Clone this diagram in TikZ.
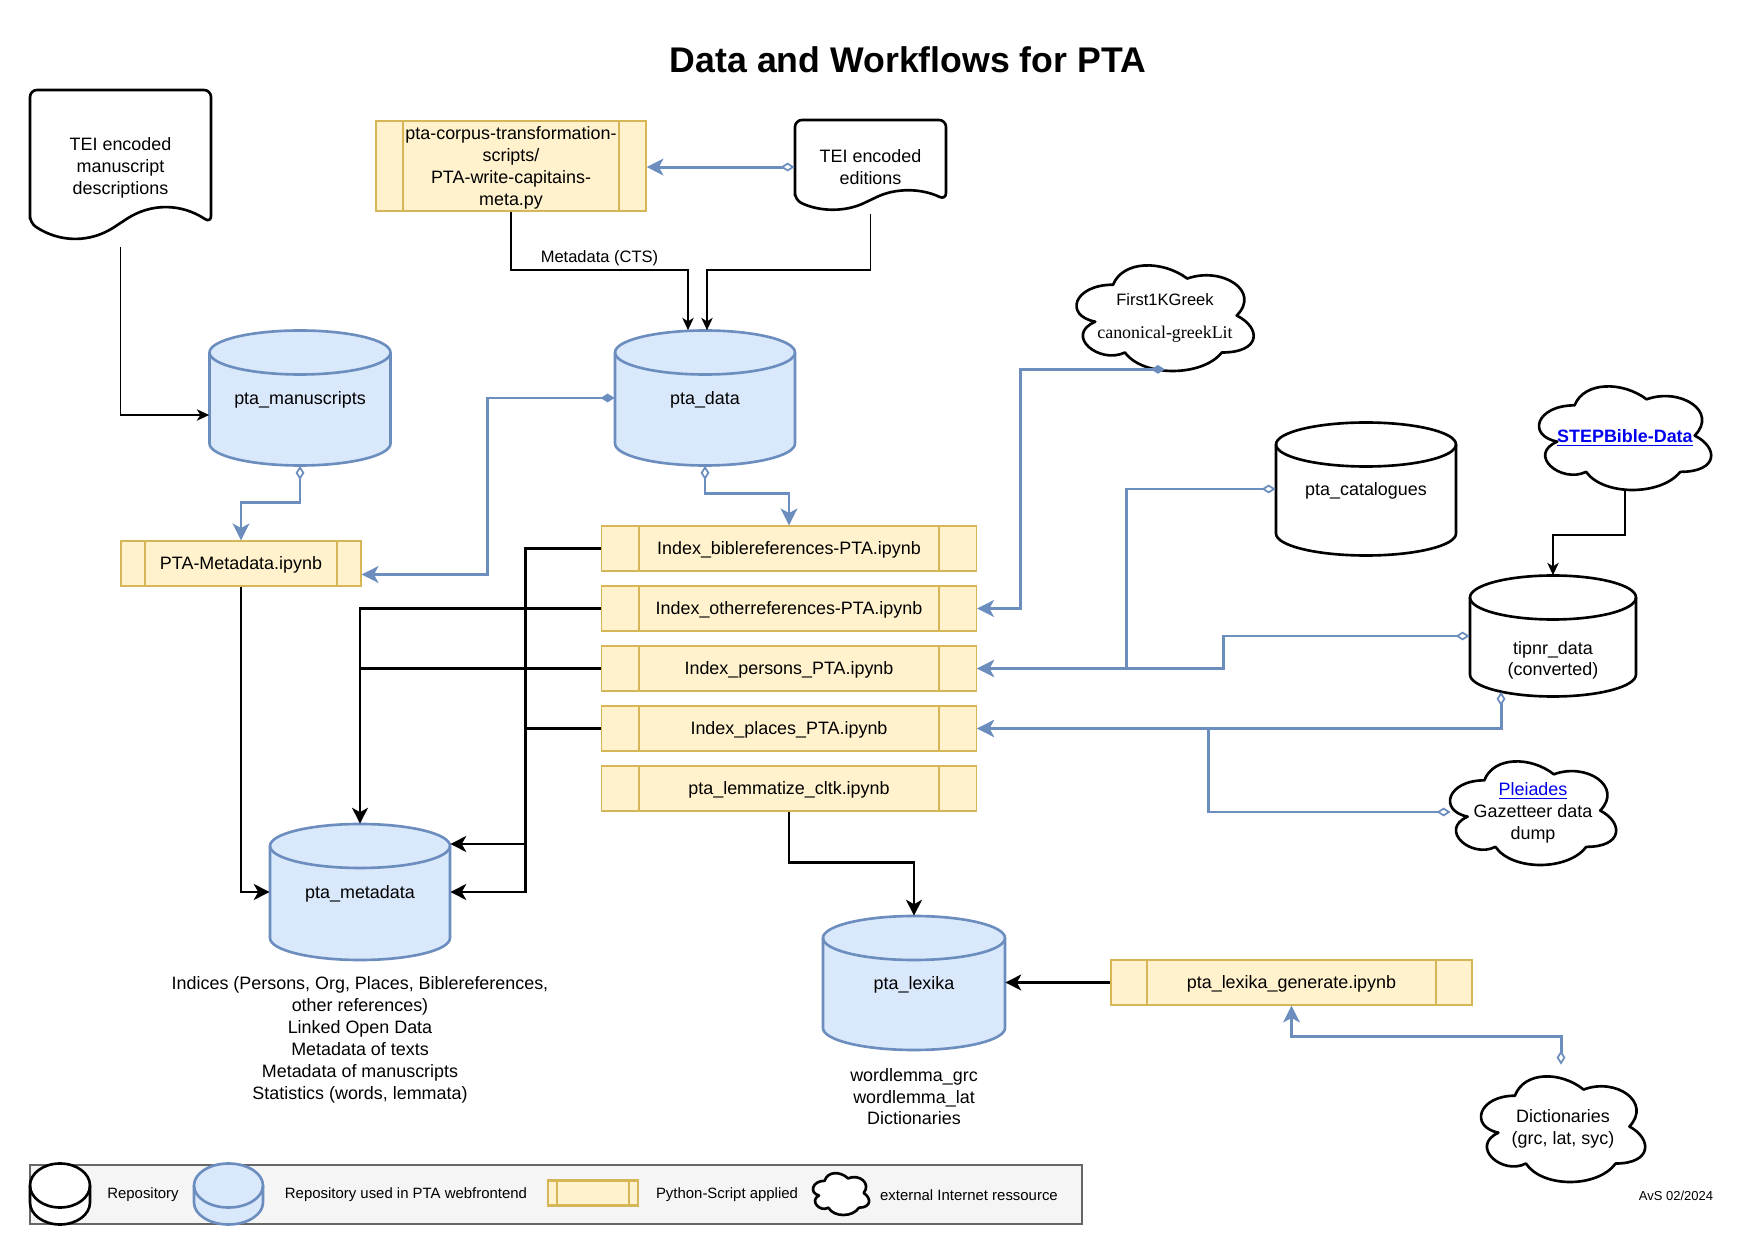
\documentclass[tikz,border=0pt]{standalone}
\usepackage{fontspec}
\setmainfont{Liberation Sans}
\newfontfamily\seriffont{Liberation Serif}
\usepackage{xcolor}
\definecolor{repodraw}{HTML}{6C8EBF}
\definecolor{repofill}{HTML}{DAE8FC}
\definecolor{scriptdraw}{HTML}{D6B656}
\definecolor{scriptfill}{HTML}{FFF2CC}
\definecolor{legendfill}{HTML}{F5F5F5}
\definecolor{legenddraw}{HTML}{666666}
\definecolor{linkblue}{HTML}{0000EE}
\usepackage{tikz}
\usetikzlibrary{positioning, calc, arrows.meta}

\newcommand{\mainsize}{\fontsize{10.2}{12.5}\selectfont}
\newcommand{\smallsize}{\fontsize{9.4}{11.5}\selectfont}
\newcommand{\legendsize}{\fontsize{8.5}{10}\selectfont}

\tikzstyle{repotext} = [rectangle, inner sep=0pt, align=center, font=\mainsize, text depth=0pt]
\tikzstyle{webrepo} = [draw=repodraw, fill=repofill, line width=1.5pt]
\tikzstyle{plainrepo} = [draw=black, fill=white, line width=1.5pt]
\tikzstyle{script} = [
    rectangle, align=center, font=\mainsize, text depth=0pt,
    draw=scriptdraw, fill=scriptfill,
    line width=0.8pt, inner sep=0pt,
    minimum height=0.9cm,
    path picture={
        \draw[scriptdraw] ($(path picture bounding box.north west)!0.1!(path picture bounding box.north east)$)
            -- ($(path picture bounding box.south west)!0.1!(path picture bounding box.south east)$);
        \draw[scriptdraw] ($(path picture bounding box.north west)!0.9!(path picture bounding box.north east)$)
            -- ($(path picture bounding box.south west)!0.9!(path picture bounding box.south east)$);
    },
]
\tikzstyle{cloudline} = [draw=black, fill=white, line width=1.5pt, line join=round]
\tikzstyle{cloudtext} = [rectangle, inner sep=0pt, align=center, font=\mainsize]
\tikzstyle{docline} = [draw=black, fill=white, line width=1.5pt, line join=round]
\tikzstyle{doctext} = [rectangle, inner sep=0pt, align=center, font=\mainsize]
\tikzstyle{notes} = [align=center, font=\mainsize]
\tikzstyle{legendtext} = [font=\legendsize]
\tikzstyle{thinarrow} = [-{Stealth[length=7pt, width=6.5pt, inset=2pt]}, line width=0.8pt]
\tikzstyle{thickarrow} = [-{Stealth[length=9pt, width=9pt, inset=2.5pt]}, line width=1.6pt]
\tikzstyle{thickline} = [line width=1.6pt]
\tikzstyle{bluearrow} = [draw=repodraw, line width=1.7pt,
    {Diamond[open, length=8pt, width=5pt, line width=1pt]}-{Stealth[length=9.5pt, width=9.5pt, inset=2.5pt]}]
\tikzstyle{bluefilled} = [draw=repodraw, line width=1.7pt,
    {Diamond[length=8pt, width=5pt]}-{Stealth[length=9.5pt, width=9.5pt, inset=2.5pt]}]

% repository: name, centre, width, height, look, text
\newcommand{\repository}[6]{
    \begin{scope}[shift={(#2)}]
        \path[#5] (-#3/2, -#4/2+22) -- (-#3/2, #4/2-22)
            arc[start angle=180, end angle=0, x radius=#3/2, y radius=22]
            -- (#3/2, -#4/2+22)
            arc[start angle=360, end angle=180, x radius=#3/2, y radius=22] -- cycle;
        \draw[#5, fill=none] (-#3/2, -#4/2+22)
            arc[start angle=180, end angle=0, x radius=#3/2, y radius=22];
    \end{scope}
    \node[repotext, minimum width=#3*0.02cm, minimum height=#4*0.02cm] (#1) at (#2) {#6};
}

% cloud: name, centre x, centre y, width, height, text
\newcommand{\cloudnode}[6]{
    \begin{scope}[shift={(#2-0.5125*#4/0.895, #3-0.52*#5/0.86)}, xscale=#4/0.895, yscale=#5/0.86]
        \draw[cloudline] (0.25,0.25) .. controls (0.05,0.25) and (0,0.5) .. (0.16,0.55)
            .. controls (0,0.66) and (0.18,0.9) .. (0.31,0.8)
            .. controls (0.4,1) and (0.7,1) .. (0.8,0.8)
            .. controls (1,0.8) and (1,0.6) .. (0.875,0.5)
            .. controls (1,0.3) and (0.8,0.1) .. (0.625,0.2)
            .. controls (0.5,0.05) and (0.3,0.05) .. (0.25,0.25) -- cycle;
    \end{scope}
    \node[cloudtext, minimum width=#4*0.02cm, minimum height=#5*0.02cm] (#1) at (#2,#3) {#6};
}

% document: name, left, top, width, side height, text
\newcommand{\docnode}[6]{
    \begin{scope}[shift={(#2,#3)}]
        \draw[docline, rounded corners=4pt] (0,#5) -- (0,0) -- (#4,0) -- (#4,#5)
            .. controls (5*#4/6, 0.85*#5) and (2*#4/3, 0.85*#5) .. (#4/2, #5)
            .. controls (#4/3, 1.15*#5) and (#4/6, 1.15*#5) .. (0,#5) -- cycle;
    \end{scope}
    \node[doctext, minimum width=#4*0.02cm, minimum height=#5/0.85*0.02cm] (#1) at (#2+#4/2, #3+#5/0.85/2) {#6};
}

\begin{document}
\begin{tikzpicture}[x=0.02cm, y=-0.02cm]
    \useasboundingbox (0,0) rectangle (1756,1246);

    \node[font=\fontsize{20.3}{24}\selectfont\bfseries] (title) at (908,60) {Data and Workflows for PTA};

    % sources
    \docnode{msdoc}{30}{90}{181}{133}{TEI encoded\\manuscript\\descriptions}
    \docnode{editions}{795}{120}{151}{80}{TEI encoded\\editions}
    \cloudnode{first}{1165}{318}{177}{106}{\smallsize First1KGreek\\[6pt]{\seriffont canonical-greekLit}}
    \cloudnode{stepbible}{1625}{438}{172}{104}{\textcolor{linkblue}{\underline{\textbf{STEPBible-Data}}}}
    \cloudnode{pleiades}{1533}{813}{166}{104}{\textcolor{linkblue}{\underline{Pleiades}}\\Gazetteer data\\dump}
    \cloudnode{dict}{1563}{1129}{164}{106}{Dictionaries\\(grc, lat, syc)}

    % repositories
    \repository{manuscripts}{300,398}{181}{135}{webrepo}{pta\_manuscripts}
    \repository{ptadata}{705,398}{180}{135}{webrepo}{pta\_data}
    \repository{metadata}{360,892}{180}{136}{webrepo}{pta\_metadata}
    \repository{lexika}{914,983}{182}{134}{webrepo}{pta\_lexika}
    \repository{catalogues}{1366,489}{180}{133}{plainrepo}{pta\_catalogues}
    \repository{tipnr}{1553,636}{166}{121}{plainrepo}{\raisebox{-0.58cm}[0pt][0pt]{\begin{tabular}{@{}c@{}}tipnr\_data\\(converted)\end{tabular}}}

    \node[notes, below=0.2cm of metadata] (metanotes) {Indices (Persons, Org, Places, Biblereferences,\\other references)\\Linked Open Data\\Metadata of texts\\Metadata of manuscripts\\Statistics (words, lemmata)};
    \node[notes, below=0.23cm of lexika] (lexnotes) {wordlemma\_grc\\wordlemma\_lat\\Dictionaries};

    % scripts
    \node[script, minimum width=5.4cm, minimum height=1.8cm] (corpus) at (511,166) {pta-corpus-transformation-\\scripts/\\PTA-write-capitains-\\meta.py};
    \node[script, minimum width=4.8cm] (ptameta) at (241,563.5) {PTA-Metadata.ipynb};
    \foreach \name/\file [count=\i] in {bible/Index\_biblereferences-PTA.ipynb, other/Index\_otherreferences-PTA.ipynb, persons/Index\_persons\_PTA.ipynb, places/Index\_places\_PTA.ipynb, lemma/pta\_lemmatize\_cltk.ipynb} {
        \node[script, minimum width=7.5cm] (\name) at (789, 488.5+60*\i) {\file};
    }
    \node[script, minimum width=7.22cm] (lexgen) at (1291.5,982.5) {pta\_lexika\_generate.ipynb};

    % arrows
    \draw[thinarrow] (msdoc.south) |- ($(manuscripts.west)+(0,17)$);
    \draw[thinarrow] (corpus.south) |- node[pos=0.75, above, yshift=-1.2pt, font=\smallsize] (cts) {Metadata (CTS)} ($(ptadata.north)+(-17,-60)$) -- ($(ptadata.north)+(-17,0)$);
    \draw[thinarrow] (editions.south) |- ($(ptadata.north)+(2,-60)$) -- ($(ptadata.north)+(2,0)$);
    \draw[thinarrow] (stepbible.south) |- ($(tipnr.north)+(0,-40)$) -- (tipnr.north);

    \draw[bluearrow] (editions.west) -- (editions.west -| corpus.east);
    \draw[bluearrow] (manuscripts.south) |- ($(ptameta.north)+(0,-38)$) -- (ptameta.north);
    \draw[bluefilled] (ptadata.west) -| ($(ptameta.east)+(126,11)$) -- ($(ptameta.east)+(0,11)$);
    \draw[bluearrow] (ptadata.south) |- ($(bible.north)+(0,-32)$) -- (bible.north);
    \draw[bluefilled] ($(first.south)+(0,-2)$) -| ($(other.east)+(43,0)$) -- (other.east);
    \draw[bluearrow] (catalogues.west) -| ($(persons.east)+(149,0)$) -- (persons.east);
    \draw[bluearrow] (tipnr.west) -| ($(persons.east)+(246,0)$) -- (persons.east);
    \draw[bluearrow] ($(tipnr.south)+(-52,-5)$) |- (places.east);
    \draw[bluearrow] ($(pleiades.west)+(1,-1)$) -| ($(places.east)+(231,0)$) -- (places.east);
    \draw[bluearrow] ($(dict.north)+(-2,-11)$) |- ($(lexgen.south)+(0,31)$) -- (lexgen.south);

    \draw[thickarrow] (bible.west) -| ($(metadata.east)+(75,0)$) -- (metadata.east);
    \draw[thickarrow] ($(metadata.east)+(75,-48)$) -- ($(metadata.east)+(0,-48)$);
    \draw[thickline] (places.west) -- ++(-76,0);
    \draw[thickarrow] (other.west) -| (metadata.north);
    \draw[thickline] (persons.west) -- (persons.west -| metadata.north);
    \draw[thickarrow] (ptameta.south) |- (metadata.west);
    \draw[thickarrow] (lemma.south) |- ($(lexika.north)+(0,-53)$) -- (lexika.north);
    \draw[thickarrow] (lexgen.west) -- (lexgen.west -| lexika.east);

    % legend
    \node[draw=legenddraw, fill=legendfill, line width=0.8pt, minimum width=21.04cm, minimum height=1.18cm] (legend) at (556,1194.5) {};
    \repository{legrepo}{60,1194}{60}{61}{plainrepo}{}
    \repository{legweb}{228.5,1194}{69}{61}{webrepo}{}
    \node[script, minimum width=1.8cm, minimum height=0.5cm, line width=1.6pt] (legscript) at (593,1193) {};
    \cloudnode{legcloud}{841}{1194}{56}{42}{}
    \node[legendtext] (legrepotext) at (143,1195) {Repository};
    \node[legendtext] (legwebtext) at (406,1195) {Repository used in PTA webfrontend};
    \node[legendtext] (legscripttext) at (727,1195) {Python-Script applied};
    \node[legendtext] (legcloudtext) at (969,1195) {external Internet ressource};

    \node[font=\fontsize{7.4}{9}\selectfont] (credit) at (1676,1196) {AvS 02/2024};
\end{tikzpicture}
\end{document}
